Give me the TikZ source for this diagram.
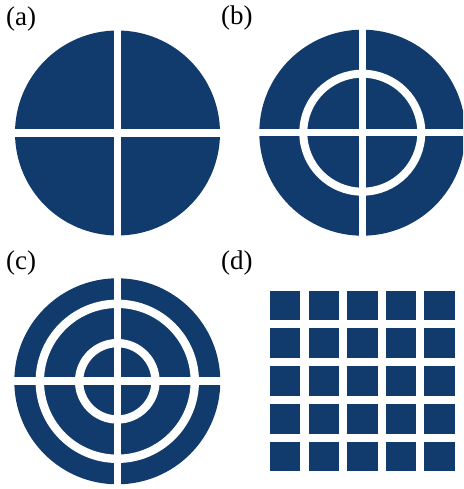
\documentclass[tikz,border=0pt]{standalone}
\usepackage{fontspec}
\setmainfont{Liberation Serif}
\definecolor{navy}{RGB}{18,59,109}
\begin{document}
\begin{tikzpicture}[x=1pt,y=-1pt,
  lbl/.style={anchor=base west,inner sep=0pt,font=\fontsize{27}{30}\selectfont},
  disc/.style={fill=navy},
  gap/.style={draw=white,line width=7.5pt},
  ring/.style={draw=white,line width=8pt},
  cell/.style={fill=navy}]
\useasboundingbox (0,0) rectangle (463,489);
\clip (0,0) rectangle (463,489);
% labels
\node[lbl] (la) at (6,25.2) {(a)};
\node[lbl] (lb) at (221,24.5) {(b)};
\node[lbl] (lc) at (6,269.5) {(c)};
\node[lbl] (ld) at (221,269.5) {(d)};
% (a)
\fill[disc] (117.5,133) circle (102.5);
\draw[gap] (117.4,25) -- (117.4,241);
\draw[gap] (10,132.9) -- (225,132.9);
% (b)
\fill[disc] (362.3,132.7) circle (103);
\draw[ring] (362.3,132.7) circle (59);
\draw[gap] (362.3,25) -- (362.3,241);
\draw[gap] (255,132.7) -- (470,132.7);
% (c)
\fill[disc] (117.3,381.3) circle (103);
\draw[ring,line width=8.4pt] (117.3,381.3) circle (77.5);
\draw[ring,line width=8.3pt] (117.3,381.3) circle (38.2);
\draw[gap] (117.4,274) -- (117.4,490);
\draw[gap] (10,381.2) -- (225,381.2);
% (d)
\foreach \i in {0,...,4}{
  \foreach \j in {0,...,4}{
    \fill[cell] ({270+\i*38.6},{290.7+\j*37.75}) rectangle ++(30.4,29.7);
  }
}
\end{tikzpicture}
\end{document}
